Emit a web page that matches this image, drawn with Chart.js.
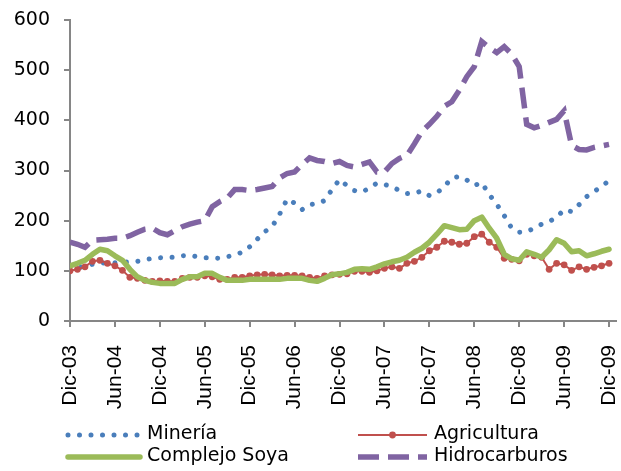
<!DOCTYPE html>
<html>
<head>
<meta charset="utf-8">
<script src="https://cdn.jsdelivr.net/npm/chart.js@4"></script>
<style>
  html, body { margin: 0; padding: 0; background: #fff; }
  #c { display: block; }
</style>
</head>
<body>
<canvas id="c" width="621" height="471"></canvas>
<script>
// Tick labels on the x axis (one every six months, Dic-03 .. Dic-09)
const tickLabels = ["Dic-03","Jun-04","Dic-04","Jun-05","Dic-05","Jun-06","Dic-06","Jun-07","Dic-07","Jun-08","Dic-08","Jun-09","Dic-09"];
const monthsPerTick = 6;

// Series names
const seriesNames = ["Minería", "Agricultura", "Complejo Soya", "Hidrocarburos"];

// Monthly values Dic-03 .. Dic-09 (73 months)
const mineria = [100,105,110,113,115,116,116,117,118,119,122,125,126,127,127,130,131,128,126,126,125,128,132,137,148,163,178,188,213,243,235,222,232,234,240,262,282,270,260,257,265,275,272,268,260,254,255,259,250,255,268,285,288,281,270,276,252,233,210,185,177,178,185,193,198,207,222,218,232,248,258,268,280];

const agricultura = [100,103,108,119,121,115,110,101,87,85,81,79,80,79,79,85,87,87,90,88,83,83,87,87,90,92,93,92,90,91,91,90,87,85,90,92,93,94,99,99,97,100,105,108,105,115,119,127,140,147,159,157,153,155,168,173,157,147,125,123,120,133,130,127,103,115,112,101,108,103,107,110,115];

const soya = [110,115,121,133,143,140,130,121,103,88,81,77,75,75,75,83,88,88,95,95,87,81,81,81,83,83,83,83,83,85,85,85,81,79,85,92,94,97,103,104,103,108,114,118,121,127,137,145,157,173,190,186,182,183,200,207,185,165,133,124,121,138,133,127,142,162,155,138,140,130,134,139,143];

const hidrocarburos = [157,153,147,161,162,163,165,165,170,177,183,185,176,172,180,188,193,197,200,228,238,245,262,262,260,262,265,268,285,294,297,312,325,320,318,314,318,310,307,312,317,297,297,314,324,330,353,378,392,408,428,437,460,487,507,557,545,535,547,532,507,392,385,390,396,402,419,350,342,341,346,349,352];

// y axis
const yMin = 0, yMax = 600, yStep = 100;

const toPoints = arr => arr.map((v, i) => ({ x: i, y: v }));

Chart.defaults.font.family = "'DejaVu Sans', 'Liberation Sans', sans-serif";
Chart.defaults.font.size = 19;
Chart.defaults.color = '#000';

const axisGray = '#868686';

const legendPlugin = {
  id: 'gridLegend',
  afterDraw(chart) {
    const ctx = chart.ctx;
    const ds = chart.data.datasets;
    const cols = [{ x0: 68, x1: 140, tx: 147 }, { x0: 358, x1: 427, tx: 434 }];
    const rows = [435, 457];
    ds.forEach((d, i) => {
      const c = cols[i % 2];
      const y = rows[Math.floor(i / 2)];
      ctx.save();
      ctx.strokeStyle = d.borderColor;
      ctx.lineWidth = d.borderWidth;
      ctx.lineCap = d.borderCapStyle || 'butt';
      ctx.setLineDash(d.borderDash || []);
      ctx.beginPath();
      ctx.moveTo(c.x0, y);
      ctx.lineTo(c.x1, y);
      ctx.stroke();
      if (d.pointRadius > 0) {
        ctx.setLineDash([]);
        ctx.fillStyle = d.pointBackgroundColor;
        ctx.beginPath();
        ctx.arc((c.x0 + c.x1) / 2, y, d.pointRadius, 0, Math.PI * 2);
        ctx.fill();
      }
      ctx.restore();
      ctx.save();
      ctx.fillStyle = '#000';
      ctx.font = "19px 'DejaVu Sans', sans-serif";
      ctx.textBaseline = 'middle';
      ctx.textAlign = 'left';
      ctx.fillText(d.label, c.tx, y - 1);
      ctx.restore();
    });
  }
};

function noPad(scale) {
  scale.paddingLeft = 0;
  scale.paddingRight = 0;
  scale.paddingTop = 0;
  scale.paddingBottom = 0;
}

new Chart(document.getElementById('c'), {
  type: 'line',
  data: {
    datasets: [
      {
        label: seriesNames[0],
        data: toPoints(mineria),
        borderColor: '#4A7EBB',
        borderWidth: 5,
        borderDash: [0.001, 11.5],
        borderCapStyle: 'round',
        pointRadius: 0,
        order: 4
      },
      {
        label: seriesNames[1],
        data: toPoints(agricultura),
        borderColor: '#C0504D',
        borderWidth: 2,
        pointRadius: 3.4,
        pointBorderWidth: 0,
        pointBackgroundColor: '#C0504D',
        order: 3
      },
      {
        label: seriesNames[2],
        data: toPoints(soya),
        borderColor: '#9BBB59',
        borderWidth: 5.5,
        borderJoinStyle: 'round',
        borderCapStyle: 'round',
        pointRadius: 0,
        order: 2
      },
      {
        label: seriesNames[3],
        data: toPoints(hidrocarburos),
        borderColor: '#8064A2',
        borderWidth: 5.5,
        borderDash: [21, 9],
        borderCapStyle: 'butt',
        pointRadius: 0,
        order: 1
      }
    ]
  },
  options: {
    responsive: false,
    animation: false,
    devicePixelRatio: 1,
    layout: { padding: { left: 13, right: 5, top: 20, bottom: 50 } },
    plugins: { legend: { display: false }, tooltip: { enabled: false }, title: { display: false } },
    elements: { line: { tension: 0 } },
    scales: {
      x: {
        type: 'linear',
        min: 0,
        max: (tickLabels.length - 1) * monthsPerTick + 0.93,
        afterBuildTicks(axis) {
          axis.ticks = tickLabels.map((_, k) => ({ value: k * monthsPerTick }));
        },
        afterFit(scale) { scale.height = 100; noPad(scale); },
        ticks: {
          autoSkip: false,
          maxRotation: 90,
          minRotation: 90,
          padding: 18,
          color: '#000',
          font: { family: "'Liberation Sans', Arial, sans-serif", size: 21 },
          callback: v => tickLabels[Math.round(v / monthsPerTick)]
        },
        grid: { drawOnChartArea: false, drawTicks: true, tickLength: 6, color: axisGray, lineWidth: 2 },
        border: { display: true, color: axisGray, width: 2 }
      },
      y: {
        min: yMin,
        max: yMax,
        afterFit(scale) { scale.width = 57; noPad(scale); },
        ticks: { stepSize: yStep, padding: 14, color: '#000' },
        grid: { drawOnChartArea: false, drawTicks: true, tickLength: 6, color: axisGray, lineWidth: 2 },
        border: { display: true, color: axisGray, width: 2 }
      }
    }
  },
  plugins: [legendPlugin]
});
</script>
</body>
</html>
